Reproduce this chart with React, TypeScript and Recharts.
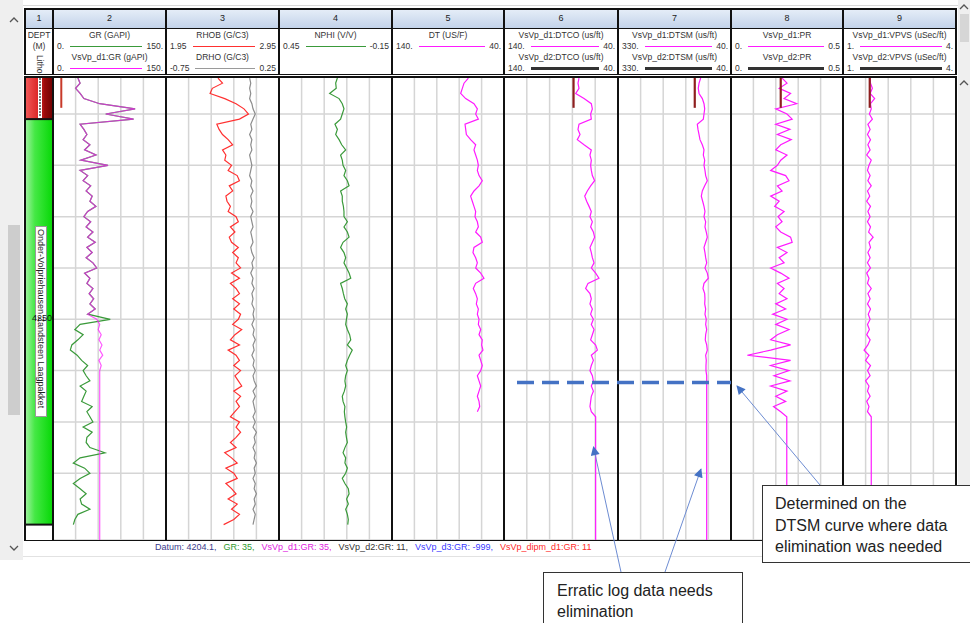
import React from 'react';
import {
  LineChart,
  Line,
  XAxis,
  YAxis,
  CartesianGrid,
  ReferenceLine,
  ReferenceArea,
} from 'recharts';

// depth samples (m), one every 0.5 m
const depth = [
  4226.5, 4227, 4227.5, 4228, 4228.5, 4229, 4229.5, 4230, 4230.5, 4231,
  4231.5, 4232, 4232.5, 4233, 4233.5, 4234, 4234.5, 4235, 4235.5, 4236,
  4236.5, 4237, 4237.5, 4238, 4238.5, 4239, 4239.5, 4240, 4240.5, 4241,
  4241.5, 4242, 4242.5, 4243, 4243.5, 4244, 4244.5, 4245, 4245.5, 4246,
  4246.5, 4247, 4247.5, 4248, 4248.5, 4249, 4249.5, 4250, 4250.5, 4251,
  4251.5, 4252, 4252.5, 4253, 4253.5, 4254, 4254.5, 4255, 4255.5, 4256,
  4256.5, 4257, 4257.5, 4258, 4258.5, 4259, 4259.5, 4260, 4260.5, 4261,
  4261.5, 4262, 4262.5, 4263, 4263.5, 4264, 4264.5, 4265, 4265.5, 4266,
  4266.5, 4267, 4267.5, 4268, 4268.5, 4269, 4269.5, 4270, 4270.5, 4271,
  4271.5,
];

// track 2
const gr = [
  33, 36, 30, 36, 41, 62, 109, 70, 107, 36,
  41, 45, 40, 49, 42, 57, 37, 73, 36, 46,
  40, 50, 44, 52, 49, 57, 46, 41, 50, 44,
  53, 46, 56, 45, 52, 44, 53, 58, 42, 49,
  45, 53, 48, 54, 49, 56, 46, 76, 36, 29,
  40, 33, 25, 23, 32, 38, 46, 40, 44, 49,
  36, 44, 41, 38, 52, 45, 49, 53, 40, 52,
  45, 44, 49, 69, 36, 27, 42, 49, 36, 27,
  36, 44, 36, 38, 49, 33, 29, 27,
];
const vsvpGr = [
  33, 36, 30, 36, 41, 62, 109, 70, 107, 36,
  41, 45, 40, 49, 42, 57, 37, 73, 36, 46,
  40, 50, 44, 52, 49, 57, 46, 41, 50, 44,
  53, 46, 56, 45, 52, 44, 53, 58, 42, 49,
  45, 53, 48, 54, 49, 56, 46, 58, 62, 60,
  64, 61, 65, 62, 66, 61, 64, 62, 62, 62,
  62, 62, 62, 62, 62, 62, 62, 62, 62, 62,
  62, 62, 62, 62, 62, 62, 62, 62, 62, 62,
  62, 62, 62, 62, 62, 62, 62, 62, 62, 62,
  62,
];
const stubDepth = [4226.4, 4229.4];
const dipmGr = [11, 11];

// track 3
const rhob = [
  2.41, 2.45, 2.36, 2.34, 2.47, 2.57, 2.64, 2.68, 2.6, 2.4,
  2.42, 2.45, 2.5, 2.54, 2.45, 2.48, 2.47, 2.53, 2.5, 2.58,
  2.6, 2.51, 2.54, 2.48, 2.49, 2.52, 2.5, 2.57, 2.59, 2.52,
  2.56, 2.51, 2.53, 2.59, 2.54, 2.59, 2.57, 2.61, 2.53, 2.6,
  2.52, 2.57, 2.6, 2.54, 2.6, 2.55, 2.61, 2.59, 2.54, 2.62,
  2.56, 2.52, 2.6, 2.5, 2.57, 2.6, 2.55, 2.61, 2.56, 2.59,
  2.62, 2.55, 2.61, 2.57, 2.6, 2.56, 2.52, 2.6, 2.57, 2.61,
  2.57, 2.52, 2.57, 2.47, 2.53, 2.58, 2.48, 2.55, 2.58, 2.48,
  2.53, 2.57, 2.5, 2.58, 2.53, 2.6, 2.55, 2.46,
];
const drho = [
  -0.01, 0, -0.01, 0, -0.01, 0.01, 0.02, 0.04, 0.02, 0,
  0.01, -0.01, 0.01, 0, 0.01, -0.01, 0, 0.01, 0, -0.01,
  0.01, 0, 0.02, 0, 0.01, 0, 0.02, 0, 0.01, 0.02,
  0, 0.01, 0.02, 0, 0.01, 0.03, 0.01, 0.02, 0, 0.02,
  0.01, 0.03, 0.01, 0.02, 0.01, 0.03, 0.02, 0.03, 0.01, 0.03,
  0.02, 0.04, 0.02, 0.03, 0.01, 0.03, 0.02, 0.04, 0.02, 0.03,
  0.05, 0.02, 0.04, 0.02, 0.03, 0.04, 0.02, 0.04, 0.02, 0.05,
  0.03, 0.04, 0.02, 0.04, 0.03, 0.05, 0.03, 0.04, 0.02, 0.04,
  0.03, 0.05, 0.03, 0.04, 0.02, 0.04, 0.03, 0.02,
];

// track 4
const nphi = [
  0.14, 0.149, 0.146, 0.181, 0.131, 0.114, 0.105, 0.114, 0.123, 0.153,
  0.14, 0.149, 0.131, 0.117, 0.096, 0.123, 0.114, 0.11, 0.096, 0.105,
  0.087, 0.078, 0.123, 0.114, 0.114, 0.108, 0.105, 0.105, 0.087, 0.105,
  0.087, 0.078, 0.11, 0.123, 0.105, 0.096, 0.105, 0.091, 0.078, 0.069,
  0.123, 0.114, 0.108, 0.101, 0.087, 0.096, 0.087, 0.092, 0.096, 0.087,
  0.075, 0.069, 0.087, 0.061, 0.075, 0.087, 0.096, 0.087, 0.096, 0.1,
  0.096, 0.103, 0.114, 0.11, 0.1, 0.103, 0.1, 0.096, 0.091, 0.096,
  0.092, 0.087, 0.1, 0.11, 0.096, 0.1, 0.087, 0.096, 0.114, 0.1,
  0.082, 0.078, 0.091, 0.082, 0.096, 0.087, 0.082, 0.085,
];

// track 5
const dt = [
  71.8, 75.7, 77.2, 78.7, 74.2, 66.8, 63.8, 65.3, 62.9, 74.8,
  74.2, 73.6, 69.8, 65.3, 66.8, 65.3, 63.8, 62.9, 63.8, 62.3,
  59.4, 62.3, 66.8, 69.8, 68.3, 66.8, 65.3, 65.9, 63.8, 62.9,
  65.3, 60.8, 59.4, 66.8, 67.7, 65.3, 63.8, 65.3, 60.8, 57.9,
  65.3, 67.4, 65.3, 63.8, 64.7, 62.9, 63.8, 62.3, 62.9, 60.8,
  62.3, 59.4, 60, 58.8, 62.3, 60.8, 59.4, 60.8, 63.8, 62.3,
  60.8, 62.3, 63.8, 62.3, 61.7, 63.8,
];

// track 6
const dtco = [
  74.2, 75.1, 74.2, 77.1, 69.8, 63.4, 62.5, 64, 63.4, 74.2,
  75.1, 73.3, 75.7, 69.8, 63.4, 64.6, 63.4, 64, 63.4, 62.5,
  60.5, 64, 66.9, 69.2, 67.5, 65.4, 63.4, 64.6, 62.5, 64,
  61.6, 60.5, 62.5, 64.6, 63.4, 62.5, 61, 63.4, 59.6, 56.7,
  66.3, 68.4, 64.6, 63.4, 64.6, 62.5, 64, 61.6, 63.4, 61,
  62.5, 64, 59.6, 58.1, 63.4, 61.6, 63.4, 64.6, 62.5, 61.6,
  63.4, 61.6, 63.4, 64, 64.6, 63.4, 59.6, 59.6, 59.6, 59.6,
  59.6, 59.6, 59.6, 59.6, 59.6, 59.6, 59.6, 59.6, 59.6, 59.6,
  59.6, 59.6, 59.6, 59.6, 59.6, 59.6, 59.6, 59.6, 59.6, 59.6,
  59.6,
];
const dtcoD2 = [79, 79];

// track 7
const dtsm = [
  117.8, 122, 124, 122, 113.6, 109.3, 107.5, 109.3, 111, 126.5,
  124.7, 122, 119.6, 113.6, 109.3, 111, 107.5, 109.3, 106.8, 105,
  100.8, 107.5, 113.6, 116.2, 112.7, 109.3, 106.8, 109.3, 105, 106.8,
  103.4, 100.8, 105, 109.3, 106.8, 105, 102.4, 106.8, 100.8, 98.2,
  109.3, 111.9, 107.5, 106.8, 107.5, 105, 106.8, 103.4, 105, 102.4,
  105, 106, 102.4, 100.8, 105, 103.4, 104.2, 104.2, 102.4, 102.4,
  102.4, 102.4, 102.4, 102.4, 102.4, 102.4, 102.4, 102.4, 102.4, 102.4,
  102.4, 102.4, 102.4, 102.4, 102.4, 102.4, 102.4, 102.4, 102.4, 102.4,
  102.4, 102.4, 102.4, 102.4, 102.4, 102.4, 102.4, 102.4, 102.4, 102.4,
  102.4,
];
const dtsmD2 = [133, 133];

// track 8
const pr = [
  0.228, 0.25, 0.215, 0.266, 0.237, 0.293, 0.2, 0.25, 0.273, 0.2,
  0.263, 0.207, 0.269, 0.222, 0.2, 0.25, 0.222, 0.207, 0.177, 0.244,
  0.259, 0.207, 0.228, 0.177, 0.215, 0.195, 0.237, 0.21, 0.228, 0.2,
  0.222, 0.266, 0.273, 0.207, 0.25, 0.215, 0.237, 0.177, 0.222, 0.259,
  0.207, 0.237, 0.215, 0.25, 0.2, 0.244, 0.186, 0.25, 0.2, 0.259,
  0.207, 0.177, 0.266, 0.177, 0.073, 0.266, 0.177, 0.259, 0.192, 0.263,
  0.177, 0.25, 0.2, 0.244, 0.19, 0.222, 0.249, 0.249, 0.249, 0.249,
  0.249, 0.249, 0.249, 0.249, 0.249, 0.249, 0.249, 0.249, 0.249, 0.249,
  0.249, 0.249, 0.249, 0.249, 0.249, 0.249, 0.249, 0.249, 0.249, 0.249,
  0.249,
];
const prD2 = [0.222, 0.222];

// track 9
const vpvs = [
  1.72, 1.73, 1.78, 1.72, 1.84, 1.73, 1.75, 1.7, 1.78, 1.66,
  1.72, 1.65, 1.73, 1.66, 1.72, 1.63, 1.75, 1.69, 1.65, 1.72,
  1.66, 1.75, 1.65, 1.71, 1.63, 1.73, 1.66, 1.72, 1.65, 1.73,
  1.68, 1.8, 1.69, 1.73, 1.66, 1.72, 1.65, 1.73, 1.63, 1.69,
  1.65, 1.75, 1.66, 1.72, 1.65, 1.73, 1.67, 1.72, 1.65, 1.7,
  1.63, 1.72, 1.66, 1.56, 1.69, 1.6, 1.73, 1.65, 1.72, 1.6,
  1.69, 1.65, 1.72, 1.63, 1.69, 1.65, 1.75, 1.75, 1.75, 1.75,
  1.75, 1.75, 1.75, 1.75, 1.75, 1.75, 1.75, 1.75, 1.75, 1.75,
  1.75, 1.75, 1.75, 1.75, 1.75, 1.75, 1.75, 1.75, 1.75, 1.75,
  1.75,
];
const vpvsD2 = [1.71, 1.71];

// lithology zones
const zoneTop = [4226.3, 4230.5];
const zoneBase = [4230.5, 4270];
const zoneName = ['', 'Onder-Volpriehausen Zandsteen Laagpakket'];

const depthDomain = [4226.3, 4271.5];
const depthTicks = [4230, 4235, 4240, 4245, 4250, 4255, 4260, 4265];

const statusItems = [
  { text: 'Datum: 4204.1,', color: '#3b3b8c' },
  { text: 'GR: 35,', color: '#2e9a2e' },
  { text: 'VsVp_d1:GR: 35,', color: '#e020e0' },
  { text: 'VsVp_d2:GR: 11,', color: '#333333' },
  { text: 'VsVp_d3:GR: -999,', color: '#3a3aff' },
  { text: 'VsVp_dipm_d1:GR: 11', color: '#ff2a2a' },
];

const rows = depth.map((d, i) => ({
  depth: d,
  gr: gr[i] ?? null,
  vsvpGr: vsvpGr[i] ?? null,
  rhob: rhob[i] ?? null,
  drho: drho[i] ?? null,
  nphi: nphi[i] ?? null,
  dt: dt[i] ?? null,
  dtco: dtco[i] ?? null,
  dtsm: dtsm[i] ?? null,
  pr: pr[i] ?? null,
  vpvs: vpvs[i] ?? null,
}));

const stub = (vals: number[]) => stubDepth.map((d, i) => ({ depth: d, v: vals[i] }));

const MAG = '#ff1aff';
const GREEN = '#3a9a3a';
const D2 = '#8e1f1f';
const FONT = '"Liberation Sans", Arial, sans-serif';

const B = [25, 53, 166, 279, 392, 504, 618, 731, 843, 956];
const TOP = 76;
const H = 464;

type Curve = {
  key: string;
  color: string;
  domain: number[];
  reversed?: boolean;
  width?: number;
  opacity?: number;
  data?: any[];
};

const tracks: Curve[][] = [
  [
    { key: 'gr', color: GREEN, domain: [0, 150] },
    { key: 'vsvpGr', color: MAG, domain: [0, 150], opacity: 0.72 },
    { key: 'v', color: '#c83a2a', domain: [0, 150], width: 2, data: stub(dipmGr) },
  ],
  [
    { key: 'drho', color: '#8c8c8c', domain: [-0.75, 0.25] },
    { key: 'rhob', color: '#ff3030', domain: [1.95, 2.95] },
  ],
  [{ key: 'nphi', color: GREEN, domain: [-0.15, 0.45], reversed: true }],
  [{ key: 'dt', color: MAG, domain: [40, 140], reversed: true }],
  [
    { key: 'dtco', color: MAG, domain: [40, 140], reversed: true },
    { key: 'v', color: D2, domain: [40, 140], reversed: true, width: 2.2, data: stub(dtcoD2) },
  ],
  [
    { key: 'dtsm', color: MAG, domain: [40, 330], reversed: true },
    { key: 'v', color: D2, domain: [40, 330], reversed: true, width: 2.2, data: stub(dtsmD2) },
  ],
  [
    { key: 'pr', color: MAG, domain: [0, 0.5] },
    { key: 'v', color: D2, domain: [0, 0.5], width: 2.2, data: stub(prD2) },
  ],
  [
    { key: 'vpvs', color: MAG, domain: [1, 4] },
    { key: 'v', color: D2, domain: [1, 4], width: 2.2, data: stub(vpvsD2) },
  ],
];

const headers = [
  [
    { title: 'GR (GAPI)', lo: '0.', hi: '150.', color: GREEN, thick: false },
    { title: 'VsVp_d1:GR (gAPI)', lo: '0.', hi: '150.', color: MAG, thick: false },
  ],
  [
    { title: 'RHOB (G/C3)', lo: '1.95', hi: '2.95', color: '#ff3030', thick: false },
    { title: 'DRHO (G/C3)', lo: '-0.75', hi: '0.25', color: '#9a9a9a', thick: false },
  ],
  [{ title: 'NPHI (V/V)', lo: '0.45', hi: '-0.15', color: GREEN, thick: false }],
  [{ title: 'DT (US/F)', lo: '140.', hi: '40.', color: MAG, thick: false }],
  [
    { title: 'VsVp_d1:DTCO (us/ft)', lo: '140.', hi: '40.', color: MAG, thick: false },
    { title: 'VsVp_d2:DTCO (us/ft)', lo: '140.', hi: '40.', color: '#333', thick: true },
  ],
  [
    { title: 'VsVp_d1:DTSM (us/ft)', lo: '330.', hi: '40.', color: MAG, thick: false },
    { title: 'VsVp_d2:DTSM (us/ft)', lo: '330.', hi: '40.', color: '#333', thick: true },
  ],
  [
    { title: 'VsVp_d1:PR', lo: '0.', hi: '0.5', color: MAG, thick: false },
    { title: 'VsVp_d2:PR', lo: '0.', hi: '0.5', color: '#333', thick: true },
  ],
  [
    { title: 'VsVp_d1:VPVS (uSec/ft)', lo: '1.', hi: '4.', color: MAG, thick: false },
    { title: 'VsVp_d2:VPVS (uSec/ft)', lo: '1.', hi: '4.', color: '#333', thick: true },
  ],
];

function Track({ left, width, curves }: { left: number; width: number; curves: Curve[] }) {
  const vGrid = [1, 2, 3, 4].map((k) => (width * k) / 5);
  return (
    <div style={{ position: 'absolute', left, top: TOP, width, height: H }}>
      <LineChart
        width={width}
        height={H}
        data={rows}
        layout="vertical"
        margin={{ top: 0, right: 0, bottom: 0, left: 0 }}
      >
        <XAxis type="number" domain={[0, 5]} ticks={[0, 1, 2, 3, 4, 5]} hide />
        {curves.map((c, i) => (
          <XAxis
            key={'ax' + i}
            xAxisId={'c' + i}
            type="number"
            domain={c.domain}
            reversed={c.reversed}
            allowDataOverflow
            hide
          />
        ))}
        <YAxis
          type="number"
          dataKey="depth"
          domain={depthDomain}
          ticks={depthTicks}
          allowDataOverflow
          hide
        />
        <CartesianGrid stroke="#d5d5d5" strokeWidth={1.5} verticalPoints={vGrid} />
        {curves.map((c, i) => (
          <Line
            key={'ln' + i}
            xAxisId={'c' + i}
            data={c.data}
            dataKey={c.key}
            type="linear"
            stroke={c.color}
            strokeWidth={c.width ?? 1.2}
            strokeOpacity={c.opacity ?? 1}
            dot={false}
            activeDot={false}
            isAnimationActive={false}
          />
        ))}
        <ReferenceLine y={zoneBase[0]} stroke="#111" strokeWidth={2} />
        <ReferenceLine y={zoneBase[1]} stroke="#111" strokeWidth={2} />
      </LineChart>
    </div>
  );
}

function LithoTrack() {
  return (
    <div style={{ position: 'absolute', left: B[0], top: TOP, width: B[1] - B[0], height: H }}>
      <LineChart
        width={B[1] - B[0]}
        height={H}
        data={rows}
        layout="vertical"
        margin={{ top: 0, right: 0, bottom: 0, left: 0 }}
      >
        <XAxis type="number" domain={[0, 1]} hide />
        <YAxis type="number" dataKey="depth" domain={depthDomain} allowDataOverflow hide />
        <ReferenceArea
          x1={0}
          x2={1}
          y1={zoneTop[0]}
          y2={zoneBase[0]}
          fill="url(#lithoRed)"
          fillOpacity={1}
          ifOverflow="extendDomain"
        />
        <ReferenceArea
          x1={0}
          x2={1}
          y1={zoneTop[1]}
          y2={zoneBase[1]}
          fill="url(#lithoGreen)"
          fillOpacity={1}
          ifOverflow="extendDomain"
        />
        <ReferenceLine y={zoneBase[0]} stroke="#111" strokeWidth={2} />
        <ReferenceLine y={zoneBase[1]} stroke="#111" strokeWidth={2} />
      </LineChart>
    </div>
  );
}

function ScaleRow({ lo, hi, color, thick }: { lo: string; hi: string; color: string; thick: boolean }) {
  return (
    <div style={{ display: 'flex', alignItems: 'center', height: 11, padding: '0 3px 0 4px' }}>
      <span>{lo}</span>
      <div style={{ flex: 1, height: thick ? 3 : 1.5, background: color, margin: '0 4px 0 6px' }} />
      <span>{hi}</span>
    </div>
  );
}

function Chevron({ x, y, up }: { x: number; y: number; up: boolean }) {
  return (
    <svg width={10} height={6} style={{ position: 'absolute', left: x, top: y }}>
      <polyline
        points={up ? '1,5 5,1 9,5' : '1,1 5,5 9,1'}
        fill="none"
        stroke="#555"
        strokeWidth={1.3}
      />
    </svg>
  );
}

export default function App() {
  const line = (left: number, top: number, width: number, height: number, bg = '#111') => (
    <div style={{ position: 'absolute', left, top, width, height, background: bg }} />
  );
  return (
    <div
      style={{
        position: 'absolute',
        left: 0,
        top: 0,
        width: 970,
        height: 623,
        overflow: 'hidden',
        background: '#fff',
        fontFamily: FONT,
        color: '#333',
      }}
    >
      <svg width={0} height={0} style={{ position: 'absolute' }}>
        <defs>
          <linearGradient id="lithoRed" x1="0" y1="0" x2="1" y2="0">
            <stop offset="0%" stopColor="#f25a5a" />
            <stop offset="55%" stopColor="#d81e1e" />
            <stop offset="70%" stopColor="#9a0a0a" />
            <stop offset="100%" stopColor="#6e0000" />
          </linearGradient>
          <linearGradient id="lithoGreen" x1="0" y1="0" x2="1" y2="0">
            <stop offset="0%" stopColor="#a4f2a4" />
            <stop offset="35%" stopColor="#45e845" />
            <stop offset="100%" stopColor="#05d805" />
          </linearGradient>
        </defs>
      </svg>

      {/* side bars */}
      <div style={{ position: 'absolute', left: 0, top: 0, width: 23, height: 560, background: '#efefef' }} />
      <div style={{ position: 'absolute', left: 8, top: 225, width: 12, height: 190, background: '#cdcdcd' }} />
      <Chevron x={9} y={17} up />
      <Chevron x={9} y={545} up={false} />
      <div style={{ position: 'absolute', left: 958, top: 0, width: 12, height: 560, background: '#efefef' }} />
      <div style={{ position: 'absolute', left: 960, top: 14, width: 9, height: 28, background: '#d6d6d6' }} />
      <Chevron x={959} y={4} up />
      <Chevron x={959} y={80} up />
      <div style={{ position: 'absolute', left: 23, top: 5, width: 935, height: 1, background: '#d9d9d9' }} />

      {/* header */}
      {B.slice(0, -1).map((l, i) => (
        <div
          key={'num' + i}
          style={{
            position: 'absolute',
            left: l,
            top: 9,
            width: B[i + 1] - l,
            height: 19,
            background: 'linear-gradient(#e6eef8, #c3d3ea)',
            textAlign: 'center',
            fontSize: 9,
            lineHeight: '19px',
            color: '#222',
          }}
        >
          {i + 1}
        </div>
      ))}
      <div
        style={{
          position: 'absolute',
          left: B[0],
          top: 29,
          width: B[1] - B[0],
          height: 45,
          fontSize: 8.5,
          textAlign: 'center',
          lineHeight: '11px',
          paddingTop: 1,
          overflow: 'hidden',
        }}
      >
        <div>DEPT</div>
        <div>(M)</div>
        <div style={{ writingMode: 'vertical-rl', margin: '1px auto 0', height: 22 }}>Litho</div>
      </div>
      {headers.map((rowsH, i) => (
        <div
          key={'hd' + i}
          style={{
            position: 'absolute',
            left: B[i + 1],
            top: 29,
            width: B[i + 2] - B[i + 1],
            height: 45,
            fontSize: 8.5,
            lineHeight: '11px',
            paddingTop: 1,
            whiteSpace: 'nowrap',
          }}
        >
          {rowsH.map((h, j) => (
            <div key={j}>
              <div style={{ textAlign: 'center', height: 11 }}>{h.title}</div>
              <ScaleRow lo={h.lo} hi={h.hi} color={h.color} thick={h.thick} />
            </div>
          ))}
        </div>
      ))}

      {/* tracks */}
      <LithoTrack />
      {tracks.map((curves, i) => (
        <Track key={'tr' + i} left={B[i + 1]} width={B[i + 2] - B[i + 1]} curves={curves} />
      ))}

      {/* litho labels */}
      <div style={{ position: 'absolute', left: 38, top: 77, width: 4, height: 41, background: '#fff' }}>
        <div
          style={{
            width: 2,
            height: 39,
            margin: '1px auto',
            background: 'repeating-linear-gradient(#777 0 2px, #fff 2px 3px)',
          }}
        />
      </div>
      <div
        style={{
          position: 'absolute',
          left: 35,
          top: 226,
          width: 12,
          height: 191,
          background: '#fff',
          border: '1px solid #9a9a9a',
          boxSizing: 'border-box',
          overflow: 'visible',
        }}
      >
        <div
          style={{
            writingMode: 'vertical-rl',
            fontSize: 9,
            lineHeight: '10px',
            whiteSpace: 'nowrap',
            color: '#222',
            marginTop: 2,
          }}
        >
          {zoneName[1]}
        </div>
      </div>
      <div style={{ position: 'absolute', left: 32, top: 313, fontSize: 9, color: '#111' }}>4250</div>

      {/* frame lines */}
      {line(B[0] - 1, 8, B[9] - B[0] + 2, 1.5)}
      {line(B[0] - 1, 27.5, B[9] - B[0] + 2, 1.5)}
      {line(B[0] - 1, 73.5, B[9] - B[0] + 2, 1.5)}
      {line(B[0] - 1, 76, B[9] - B[0] + 2, 1.5)}
      {line(B[0] - 1, 539.5, B[9] - B[0] + 2, 1.5)}
      {B.map((x, i) => (
        <React.Fragment key={'vb' + i}>
          {line(x - 1, 8, 2, 67)}
          {line(x - 1, 76, 2, 465)}
        </React.Fragment>
      ))}

      {/* status bar */}
      <div
        style={{
          position: 'absolute',
          left: 155,
          top: 541,
          fontSize: 9,
          lineHeight: '13px',
          whiteSpace: 'nowrap',
        }}
      >
        {statusItems.map((s, i) => (
          <span key={i} style={{ color: s.color, marginRight: 7 }}>
            {s.text}
          </span>
        ))}
      </div>
      <div style={{ position: 'absolute', left: 23, top: 556, width: 935, height: 1, background: '#e2e2e2' }} />

      {/* annotations */}
      <svg
        width={970}
        height={623}
        style={{ position: 'absolute', left: 0, top: 0, pointerEvents: 'none' }}
      >
        <defs>
          <marker
            id="ah"
            viewBox="0 0 10 10"
            refX="9"
            refY="5"
            markerUnits="userSpaceOnUse"
            markerWidth="11"
            markerHeight="9"
            orient="auto"
          >
            <path d="M0,0 L10,5 L0,10 z" fill="#4472c4" />
          </marker>
        </defs>
        <line x1={517} y1={382.5} x2={731} y2={382.5} stroke="#4472c4" strokeWidth={3.5} strokeDasharray="17 8" />
        <line x1={621} y1={572} x2={593.5} y2={447} stroke="#6d8cd2" strokeWidth={1} markerEnd="url(#ah)" />
        <line x1={665} y1={572} x2={701} y2={469} stroke="#6d8cd2" strokeWidth={1} markerEnd="url(#ah)" />
        <line x1={820} y1={485} x2={737} y2={386} stroke="#6d8cd2" strokeWidth={1} markerEnd="url(#ah)" />
      </svg>
      <div
        style={{
          position: 'absolute',
          left: 762,
          top: 485,
          width: 220,
          height: 78,
          background: '#fff',
          border: '1px solid #333',
          boxSizing: 'border-box',
          padding: '7px 0 0 12px',
          fontSize: 16,
          lineHeight: '21.5px',
          color: '#222',
          whiteSpace: 'nowrap',
        }}
      >
        <div>Determined on the</div>
        <div>DTSM curve where data</div>
        <div>elimination was needed</div>
      </div>
      <div
        style={{
          position: 'absolute',
          left: 543,
          top: 572,
          width: 200,
          height: 60,
          background: '#fff',
          border: '1px solid #333',
          boxSizing: 'border-box',
          padding: '7px 0 0 13px',
          fontSize: 16,
          lineHeight: '21px',
          color: '#222',
          whiteSpace: 'nowrap',
        }}
      >
        <div>Erratic log data needs</div>
        <div>elimination</div>
      </div>
    </div>
  );
}
